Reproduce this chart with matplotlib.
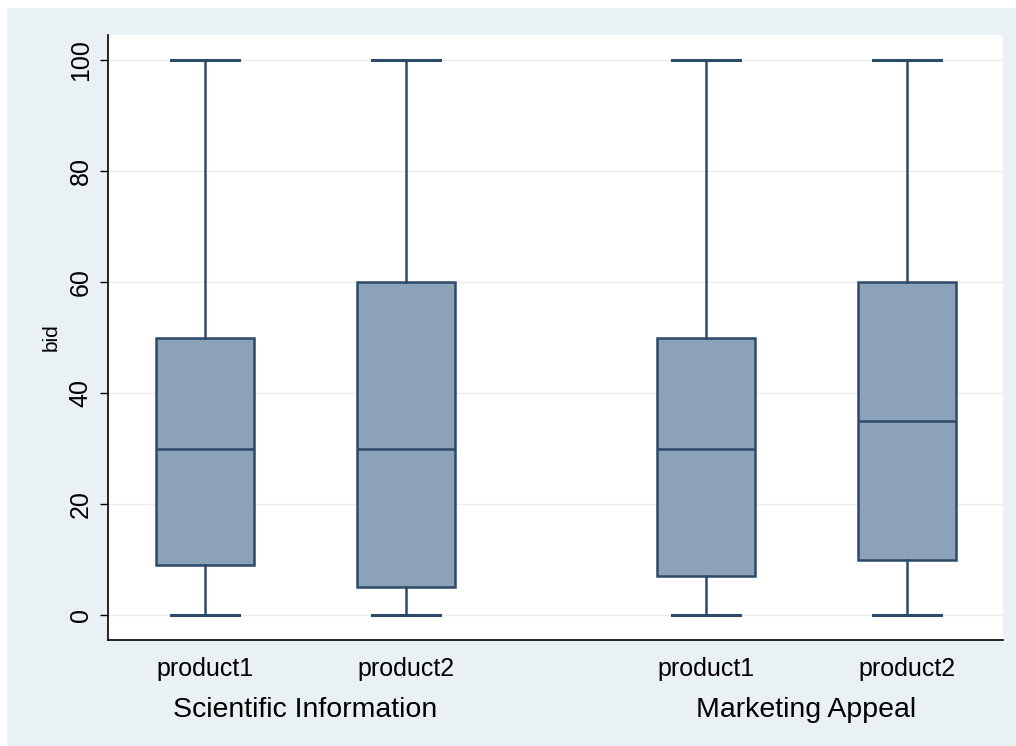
import matplotlib.pyplot as plt
from matplotlib.patches import Rectangle

plt.rcParams['font.family'] = ['Liberation Sans', 'DejaVu Sans']

# box summaries of bid, by treatment group and product
groups = ['Scientific Information', 'Marketing Appeal']
products = ['product1', 'product2', 'product1', 'product2']
whislo = [0, 0, 0, 0]
q1 = [9, 5, 7, 10]
med = [30, 30, 30, 35]
q3 = [50, 60, 50, 60]
whishi = [100, 100, 100, 100]

positions = [1, 2, 3.5, 4.5]
group_centers = [1.5, 4.0]

box_fill = '#8CA2B8'
box_edge = '#2C4A6A'

stats = []
for i in range(len(products)):
    stats.append({'whislo': whislo[i], 'q1': q1[i], 'med': med[i],
                  'q3': q3[i], 'whishi': whishi[i], 'fliers': []})

fig = plt.figure(figsize=(10.16, 7.46), dpi=100, facecolor='white')
fig.patches.append(Rectangle((7 / 1016, 0), 1, 1 - 8 / 746,
                             transform=fig.transFigure, facecolor='#EAF1F4',
                             edgecolor='none', zorder=-10))

ax = fig.add_axes([108 / 1016, 106 / 746, 895 / 1016, 605 / 746])
ax.set_facecolor('white')

ax.bxp(stats, positions=positions, widths=0.49, patch_artist=True,
       showfliers=False, capwidths=0.34,
       boxprops=dict(facecolor=box_fill, edgecolor=box_edge, linewidth=1.8),
       medianprops=dict(color=box_edge, linewidth=1.8),
       whiskerprops=dict(color=box_edge, linewidth=1.8),
       capprops=dict(color=box_edge, linewidth=2.2))

ax.set_xlim(0.515, 4.98)
ax.set_ylim(-4.5, 104.5)
ax.set_yticks([0, 20, 40, 60, 80, 100])
ax.set_yticklabels(['0', '20', '40', '60', '80', '100'], rotation=90,
                   va='center', fontsize=18)
ax.yaxis.grid(True, color='#EBEBEB', linewidth=1)
ax.set_axisbelow(True)
ax.tick_params(axis='y', length=6, width=1, color='black', pad=5)

ax.set_xticks(positions)
ax.set_xticklabels(products, fontsize=18)
ax.tick_params(axis='x', length=0, pad=12)

for name, c in zip(groups, group_centers):
    ax.text(c, -0.116, name, transform=ax.get_xaxis_transform(),
            ha='center', va='center', fontsize=20.5)

ax.set_ylabel('bid', fontsize=15, labelpad=6)

ax.spines['top'].set_visible(False)
ax.spines['right'].set_visible(False)
ax.spines['left'].set_linewidth(1.2)
ax.spines['bottom'].set_linewidth(1.2)

fig.savefig('out.png', dpi=100, facecolor=fig.get_facecolor())
